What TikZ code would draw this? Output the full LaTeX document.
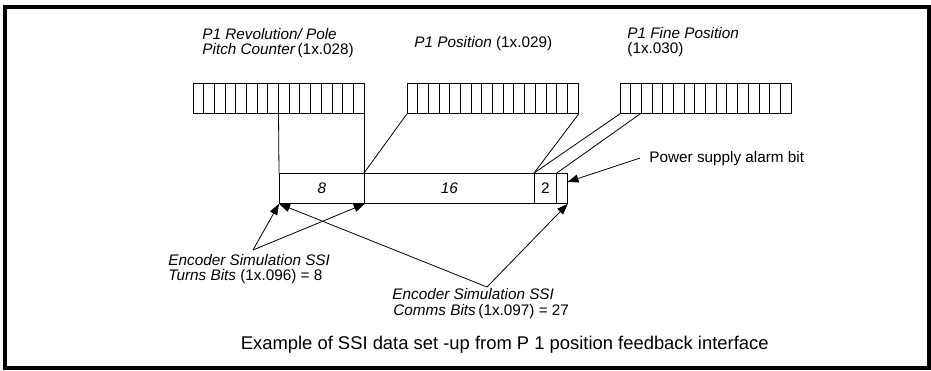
\documentclass[tikz,border=0pt]{standalone}
\usepackage{fontspec}
\setmainfont{Liberation Sans}
\usetikzlibrary{arrows.meta}
\begin{document}
\begin{tikzpicture}[x=1pt,y=-1pt, line width=0.8pt,
  reg/.style={draw, minimum width=171pt, minimum height=30pt, inner sep=0pt, anchor=north west},
  cell/.style={draw, minimum height=30pt, inner sep=0pt, anchor=north west, font=\fontsize{15.3}{16}\selectfont},
  lbl/.style={font=\fontsize{15.3}{16}\selectfont, inner sep=0pt, anchor=base west},
  captionlbl/.style={font=\fontsize{18.4}{20}\selectfont, inner sep=0pt, anchor=base east},
  arr/.style={-{Triangle[length=11pt,width=8pt]}, line width=0.8pt}]
\useasboundingbox (0,0) rectangle (931,370);
\draw[line width=4pt] (5,6.5) rectangle (929,368);
% registers
\node[reg] (r1) at (193,83) {};
\node[reg] (r2) at (407,83) {};
\node[reg] (r3) at (620,83) {};
\foreach \r in {r1,r2,r3}{
  \foreach \i in {1,...,15}{
    \draw (\r.north west) ++(\i*10.6875,0) -- ++(0,30);
  }
}
\coordinate (r1b8) at (278.5,113);
\coordinate (r3b2) at (641.4,113);
% output bar
\node[cell, minimum width=85pt] (c8) at (279,173) {\itshape 8};
\node[cell, minimum width=170pt] (c16) at (364,173) {\itshape 16};
\node[cell, minimum width=22pt] (c2) at (534,173) {2};
\node[cell, minimum width=11pt] (cp) at (556,173) {};
% mapping lines
\draw (r1b8) -- (c8.north west);
\draw (r1.south east) -- (c8.north east);
\draw (r2.south west) -- (c16.north west);
\draw (r2.south east) -- (c2.north west);
\draw (r3.south west) -- (c2.north west);
\draw (r3b2) -- (c2.north east);
% headings
\node[lbl] (h1a) at (202,39.5) {\itshape P1 Revolution/ Pole};
\node[lbl] (h1b) at (202,54.5) {\itshape Pitch Counter\,\upshape(1x.028)};
\node[lbl] (h2) at (414,47) {\itshape P1 Position \upshape(1x.029)};
\node[lbl] (h3a) at (627,38.5) {\itshape P1 Fine Position};
\node[lbl] (h3b) at (627,53.5) {(1x.030)};
% power supply
\node[lbl] (pw) at (649,162) {Power supply alarm bit};
\coordinate (ptip) at (567.5,182);
\draw[arr] ([xshift=-9pt]pw.west) -- (ptip);
% turns bits
\node[lbl] (t1) at (168,265) {\itshape Encoder Simulation SSI};
\node[lbl] (t2) at (168,280) {\itshape Turns Bits \upshape(1x.096) = 8};
\coordinate (ta) at (253,250);
\draw[arr] (ta) -- (c8.south west);
\draw[arr] (ta) -- (c8.south east);
% comms bits
\node[lbl] (m1) at (392,299.5) {\itshape Encoder Simulation SSI};
\node[lbl] (m2) at (393,315) {\itshape Comms Bits\,\upshape(1x.097) = 27};
\coordinate (ca) at (487,287);
\draw[arr] (ca) -- (c8.south west);
\draw[arr] (ca) -- (cp.south east);
% caption
\node[captionlbl] (capt) at (769,349) {Example of SSI data set -up from P 1 position feedback interface};
\end{tikzpicture}
\end{document}
